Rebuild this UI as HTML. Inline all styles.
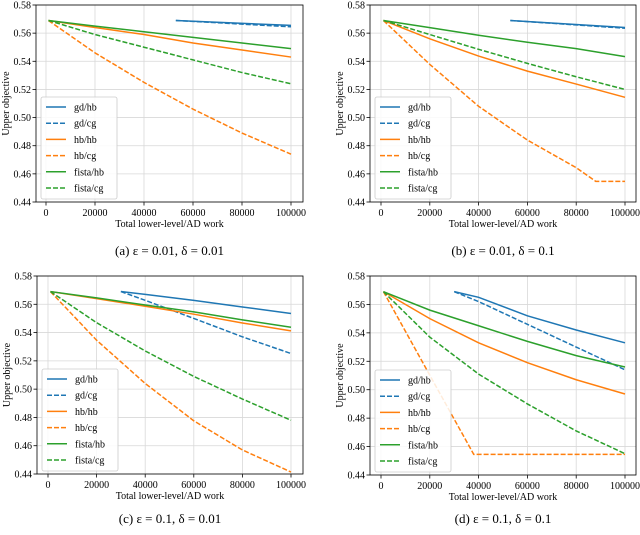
<!DOCTYPE html>
<html><head><meta charset="utf-8"><style>
body{margin:0;background:#fff}
svg{display:block;font-family:"Liberation Serif",serif}
</style></head><body>
<svg id="c" width="640" height="535" viewBox="0 0 640 535" xmlns="http://www.w3.org/2000/svg"></svg>
<script>
const seriesNames=["gd/hb","gd/cg","hb/hb","hb/cg","fista/hb","fista/cg"];
const seriesColors=["#1f77b4","#1f77b4","#ff7f0e","#ff7f0e","#2ca02c","#2ca02c"];
const seriesDashed=[false,true,false,true,false,true];
const xTicks=[0,20000,40000,60000,80000,100000];
const yTicks=[0.44,0.46,0.48,0.50,0.52,0.54,0.56,0.58];
const captions=["(a) ε = 0.01, δ = 0.01","(b) ε = 0.01, δ = 0.1","(c) ε = 0.1, δ = 0.01","(d) ε = 0.1, δ = 0.1"];
const xStd=[1000,20000,40000,60000,80000,100000];
// panel a
const aX=[[53000,100000],[53000,100000],xStd,xStd,xStd,xStd];
const aY=[[0.569,0.5655],[0.569,0.5645],[0.569,0.564,0.559,0.553,0.548,0.543],[0.569,0.546,0.525,0.506,0.489,0.474],[0.569,0.565,0.561,0.557,0.553,0.549],[0.569,0.559,0.550,0.541,0.532,0.524]];
// panel b
const bX=[[53000,100000],[53000,100000],xStd,[1000,20000,40000,60000,80000,88000,100000],xStd,xStd];
const bY=[[0.569,0.564],[0.569,0.5635],[0.569,0.556,0.5437,0.533,0.5238,0.5144],[0.569,0.5378,0.508,0.484,0.4644,0.4547,0.4547],[0.569,0.5639,0.5585,0.5535,0.549,0.5433],[0.569,0.559,0.5485,0.5385,0.529,0.520]];
// panel c
const cX=[[30000,40000,60000,80000,100000],[30000,40000,60000,80000,100000],xStd,xStd,xStd,xStd];
const cY=[[0.569,0.567,0.5628,0.5581,0.5535],[0.569,0.5628,0.550,0.537,0.5252],[0.569,0.564,0.5586,0.553,0.5468,0.5412],[0.569,0.5346,0.504,0.4776,0.457,0.4414],[0.569,0.5645,0.5595,0.5546,0.549,0.5438],[0.569,0.547,0.527,0.509,0.493,0.478]];
// panel d
const dX=[[30000,40000,60000,80000,100000],[30000,40000,60000,80000,100000],xStd,[1000,38000,100000],xStd,xStd];
const dY=[[0.569,0.565,0.552,0.542,0.533],[0.569,0.562,0.546,0.530,0.514],[0.569,0.550,0.533,0.519,0.507,0.497],[0.569,0.4545,0.4545],[0.569,0.556,0.545,0.534,0.524,0.516],[0.569,0.537,0.511,0.490,0.471,0.455]];

const panels=[
 {n:"a",L:36,R:303,T:5,B:202,x0:46,x1:291,X:aX,Y:aY,cy:255},
 {n:"b",L:370,R:636,T:5,B:202,x0:381,x1:625,X:bX,Y:bY,cy:255},
 {n:"c",L:37,R:303,T:276,B:474,x0:48,x1:291,X:cX,Y:cY,cy:523},
 {n:"d",L:370,R:636,T:276,B:475,x0:381,x1:625,X:dX,Y:dY,cy:523}
];
const svg=document.getElementById("c");
const NS="http://www.w3.org/2000/svg";
function mk(t,a,p){const e=document.createElementNS(NS,t);for(const k in a)e.setAttribute(k,a[k]);(p||svg).appendChild(e);return e;}
panels.forEach((p,pi)=>{
 const g=mk("g",{});
 
 
 const sx=v=>p.x0+(v/100000)*(p.x1-p.x0);
 const sy=v=>p.B-(v-0.44)/(0.14)*(p.B-p.T);
 xTicks.forEach(t=>{
  mk("line",{x1:sx(t),x2:sx(t),y1:p.T,y2:p.B,stroke:"#d8d8d8","stroke-width":0.8},g);
  mk("line",{x1:sx(t),x2:sx(t),y1:p.B,y2:p.B+3.5,stroke:"#000","stroke-width":0.8},g);
  const tx=mk("text",{x:sx(t),y:p.B+14,"font-size":10,"text-anchor":"middle"},g);tx.textContent=t;
  
  
 });
 yTicks.forEach(t=>{
  mk("line",{x1:p.L,x2:p.R,y1:sy(t),y2:sy(t),stroke:"#d8d8d8","stroke-width":0.8},g);
  mk("line",{x1:p.L-3.5,x2:p.L,y1:sy(t),y2:sy(t),stroke:"#000","stroke-width":0.8},g);
  const tx=mk("text",{x:p.L-5,y:sy(t)+3.5,"font-size":10,"text-anchor":"end"},g);tx.textContent=t.toFixed(2);
  
  
 });
 seriesNames.forEach((s,i)=>{
  const pts=p.X[i].map((x,j)=>sx(x)+","+sy(p.Y[i][j])).join(" ");
  const l=mk("polyline",{points:pts,fill:"none",stroke:seriesColors[i],"stroke-width":1.5,"stroke-dasharray":seriesDashed[i]?"5,2":"none"},g);
  
  
 });
 mk("rect",{x:p.L,y:p.T,width:p.R-p.L,height:p.B-p.T,fill:"none",stroke:"#000","stroke-width":0.8},g);
 const lx=p.L+5,ly=p.B-105;
 const lg=mk("g",{},g);
 
 
 mk("rect",{x:lx,y:ly,width:76,height:102,fill:"#fff","fill-opacity":0.85,stroke:"#ccc","stroke-width":0.8,rx:2},lg);
 seriesNames.forEach((s,i)=>{
  const yy=ly+10+i*16.2;
  mk("line",{x1:lx+5,x2:lx+25,y1:yy,y2:yy,stroke:seriesColors[i],"stroke-width":1.5,"stroke-dasharray":seriesDashed[i]?"5,2":"none"},lg);
  const tx=mk("text",{x:lx+33,y:yy+3.5,"font-size":10},lg);tx.textContent=s;
  
  
 });
 const xl=mk("text",{x:(p.L+p.R)/2,y:p.B+25,"font-size":10,"text-anchor":"middle"},g);xl.textContent="Total lower-level/AD work";
 
 
 const yx=p.L-27,yc=(p.T+p.B)/2;
 const yl=mk("text",{x:yx,y:yc,"font-size":10,"text-anchor":"middle",transform:"rotate(-90 "+yx+" "+yc+")"},g);yl.textContent="Upper objective";
 
 
 const cp=mk("text",{x:(p.L+p.R)/2,y:p.cy,"font-size":13,"text-anchor":"middle"},g);cp.textContent=captions[pi];
 
 
});
</script>
</body></html>
